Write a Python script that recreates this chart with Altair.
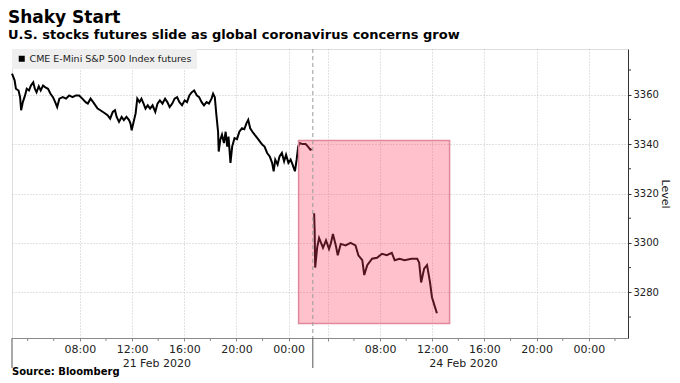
import altair as alt
import pandas as pd

# ---------------- data (hours on a compressed session timeline; 21 Feb 00:00 = 0) --------------
series_name = "CME E-Mini S&P 500 Index futures"

day1_hours = [2.80, 3.00, 3.10, 3.30, 3.42, 3.50, 3.63, 3.80, 3.93, 4.10,
              4.25, 4.43, 4.55, 4.68, 4.85, 5.00, 5.18, 5.36, 5.56, 5.75,
              5.94, 6.11, 6.26, 6.43, 6.69, 6.94, 7.18, 7.44, 7.69, 7.94,
              8.19, 8.44, 8.61, 8.82, 9.02, 9.19, 9.36, 9.57, 9.77, 9.94,
              10.12, 10.32, 10.52, 10.69, 10.82, 11.00, 11.20, 11.37, 11.57, 11.77,
              11.88, 11.97, 12.12, 12.27, 12.40, 12.57, 12.72, 12.88, 13.03, 13.20,
              13.38, 13.57, 13.78, 13.95, 14.13, 14.33, 14.53, 14.70, 14.88, 15.08,
              15.26, 15.45, 15.63, 15.83, 16.03, 16.21, 16.39, 16.58, 16.76, 16.96,
              17.14, 17.33, 17.51, 17.71, 17.89, 18.09, 18.21, 18.34, 18.46, 18.59,
              18.64, 18.76, 18.89, 19.04, 19.17, 19.29, 19.39, 19.54, 19.67, 19.85,
              20.04, 20.22, 20.42, 20.60, 20.77, 20.90, 21.05, 21.22, 21.39, 21.60,
              21.80, 21.97, 22.15, 22.35, 22.55, 22.73, 22.85, 22.97, 23.15, 23.30,
              23.48, 23.65, 23.80, 23.98, 24.15, 24.30, 24.48, 24.61, 24.73, 24.85,
              25.06, 25.30, 25.48, 25.66, 25.76]
day1_level = [3368.5, 3365.8, 3362.4, 3361.7, 3359, 3353.7, 3357, 3359.7, 3362.4, 3361.7,
              3363.7, 3365, 3362.4, 3361, 3363.4, 3361.7, 3363.7, 3363, 3362.4, 3360.4,
              3359, 3357, 3355, 3358.4, 3359, 3358.4, 3359.7, 3359, 3359.7, 3359.7,
              3358.4, 3357, 3356.4, 3358.4, 3357, 3355.7, 3354.4, 3353.7, 3353, 3352.4,
              3351.7, 3350.3, 3353, 3353.7, 3351, 3349, 3351, 3349.7, 3351, 3349.7,
              3348.3, 3345.6, 3349, 3352.4, 3358.4, 3357, 3358.4, 3356.4, 3354.4, 3355.7,
              3354.4, 3355.7, 3353, 3356.4, 3357.7, 3356.4, 3358.4, 3357, 3355, 3356.4,
              3358.4, 3359, 3357, 3355.7, 3357.7, 3357, 3359.7, 3361, 3361.7, 3359.7,
              3359, 3357, 3355.7, 3357, 3356.4, 3358.4, 3360.4, 3359, 3351.8, 3345,
              3337, 3341.8, 3343.8, 3340.4, 3345, 3339, 3343, 3332.4, 3339, 3342.4,
              3342, 3345, 3346.4, 3346, 3348.5, 3349.8, 3346.4, 3345, 3343.8, 3342.4,
              3341, 3339.8, 3339, 3336.4, 3335, 3332.4, 3329, 3333.7, 3331.7, 3335,
              3336.4, 3333, 3335.7, 3332.4, 3333.7, 3331.7, 3329, 3333.7, 3339, 3340.4,
              3340, 3340, 3339, 3337.7, 3338]

day2_hours = [25.95, 25.99, 26.03, 26.18, 26.33, 26.48, 26.63, 26.86, 27.09, 27.24,
              27.39, 27.61, 27.76, 27.99, 28.36, 28.74, 29.12, 29.34, 29.64, 29.79,
              30.02, 30.39, 30.77, 31.15, 31.52, 31.90, 32.12, 32.50, 32.88, 33.40,
              33.85, 34.00, 34.15, 34.38, 34.60, 34.83, 34.98, 35.21, 35.36]
day2_level = [3312, 3305, 3290, 3298, 3302, 3300, 3298, 3301, 3297.6, 3300,
              3303.6, 3299, 3295, 3299.6, 3299, 3300, 3299, 3295, 3293, 3287,
              3291, 3293.6, 3294, 3295.6, 3295, 3296, 3293, 3293.6, 3293, 3293.6,
              3293.6, 3292, 3284, 3289.6, 3291, 3284, 3278, 3274, 3271.5]

x_tick_values = [8, 12, 16, 20, 24, 27, 31, 35, 39, 43, 47]
x_tick_labels = ["08:00", "12:00", "16:00", "20:00", "00:00", "",
                 "08:00", "12:00", "16:00", "20:00", "00:00"]
x_minor_ticks = [4, 6, 10, 14, 18, 22, 29, 33, 37, 41, 45, 49]
y_tick_values = [3280, 3300, 3320, 3340, 3360]
y_minor_ticks = [3270, 3290, 3310, 3330, 3350, 3370]
date_labels = ["21 Feb 2020", "24 Feb 2020"]
date_label_hours = [13.9, 37.4]
session_break = [25.85]
day_bounds = [2.8, 25.85]
highlight_hours = [24.76, 36.33]
highlight_level = [3267.4, 3341.5]

x_domain = [2.8, 50.0]
y_domain = [3261.5, 3378.5]

# ---------------- frames --------------------------------------------------------------------
line_df = pd.DataFrame({
    "hours": day1_hours + day2_hours,
    "level": day1_level + day2_level,
    "seg": ["d1"] * len(day1_hours) + ["d2"] * len(day2_hours),
    "series": [series_name] * (len(day1_hours) + len(day2_hours)),
})
rect_df = pd.DataFrame({"hours": [highlight_hours[0]], "hours2": [highlight_hours[1]],
                        "level": [highlight_level[0]], "level2": [highlight_level[1]]})
break_df = pd.DataFrame({"hours": session_break})
bounds_df = pd.DataFrame({"hours": day_bounds})
xminor_df = pd.DataFrame({"hours": x_minor_ticks})
yminor_df = pd.DataFrame({"level": y_minor_ticks})
date_df = pd.DataFrame({"hours": date_label_hours, "label": date_labels})
source_df = pd.DataFrame({"label": ["Source: Bloomberg"]})

W, H = 616, 289
FONT = "DejaVu Sans"

label_expr = "{}[indexof({}, datum.value)]".format(
    "[" + ",".join("'%s'" % s for s in x_tick_labels) + "]",
    "[" + ",".join(str(v) for v in x_tick_values) + "]")

x_axis = alt.Axis(values=x_tick_values, labelExpr=label_expr, title=None, grid=True,
                  gridDash=[1, 2], gridColor="#c4c4c4", gridWidth=1, tickSize=3,
                  tickColor="#888888", domainColor="#8a8a8a", labelFontSize=11,
                  labelColor="#222222", labelPadding=2, labelFont=FONT)
y_axis = alt.Axis(values=y_tick_values, format="d", orient="right", title="Level",
                  grid=True, gridDash=[1, 2], gridColor="#c4c4c4", gridWidth=1, tickSize=3,
                  tickColor="#333333", domainColor="#333333", labelFontSize=10,
                  labelColor="#222222", labelPadding=2, titleFontSize=11,
                  titleFontWeight="normal", titleColor="#222222", titlePadding=1,
                  labelFont=FONT, titleFont=FONT)

xs = alt.Scale(domain=x_domain, nice=False, zero=False)
ys = alt.Scale(domain=y_domain, nice=False, zero=False)
X = alt.X("hours:Q", scale=xs, axis=x_axis)
Y = alt.Y("level:Q", scale=ys, axis=y_axis)

line = alt.Chart(line_df).mark_line(strokeWidth=2, strokeJoin="miter").encode(
    x=X, y=Y, detail="seg:N",
    color=alt.Color("series:N", scale=alt.Scale(range=["black"]),
                    legend=alt.Legend(orient="top-left", title=None, offset=0, padding=5,
                                      fillColor="#efefef", symbolType="square",
                                      symbolSize=36, symbolFillColor="black",
                                      symbolStrokeWidth=0, labelFontSize=9.5, labelLimit=0,
                                      labelOffset=3, labelColor="#222222", labelFont=FONT)))

rect = alt.Chart(rect_df).mark_rect(fill="#ff4060", fillOpacity=0.32, stroke="#e0889c",
                                    strokeWidth=1.5).encode(
    x=X, x2="hours2:Q", y=Y, y2="level2:Q")

brk = alt.Chart(break_df).mark_rule(color="#9a9a9a", strokeDash=[4, 3], strokeWidth=1).encode(x=X)

bounds = alt.Chart(bounds_df).mark_rule(color="#555555", strokeWidth=1).encode(
    x=X, y=alt.value(H), y2=alt.value(H + 30))

xminor = alt.Chart(xminor_df).mark_rule(color="#888888", strokeWidth=1).encode(
    x=X, y=alt.value(H), y2=alt.value(H + 3))

yminor = alt.Chart(yminor_df).mark_rule(color="#333333", strokeWidth=1).encode(
    y=Y, x=alt.value(W), x2=alt.value(W + 3))

dates = alt.Chart(date_df).mark_text(fontSize=11, font=FONT, color="#222222",
                                     baseline="alphabetic").encode(
    x=X, y=alt.value(H + 29), text="label:N")

source = alt.Chart(source_df).mark_text(fontSize=10, font=FONT, fontWeight="bold",
                                        color="black", align="left",
                                        baseline="alphabetic").encode(
    x=alt.value(0), y=alt.value(H + 37), text="label:N")

chart = alt.layer(line, rect, brk, bounds, xminor, yminor, dates, source).properties(
    width=W, height=H,
    padding={"left": 0, "top": 0, "right": 0, "bottom": 0},
    title=alt.Title("Shaky Start",
                    subtitle="U.S. stocks futures slide as global coronavirus concerns grow",
                    anchor="start", font=FONT, fontSize=17, fontWeight="bold", color="black",
                    subtitleFont=FONT, subtitleFontSize=13, subtitleFontWeight="bold",
                    subtitleColor="black", subtitlePadding=2, offset=6),
).configure_view(stroke=None).configure(font=FONT)

chart.save("out.html", embed_options={"renderer": "svg", "actions": False})
